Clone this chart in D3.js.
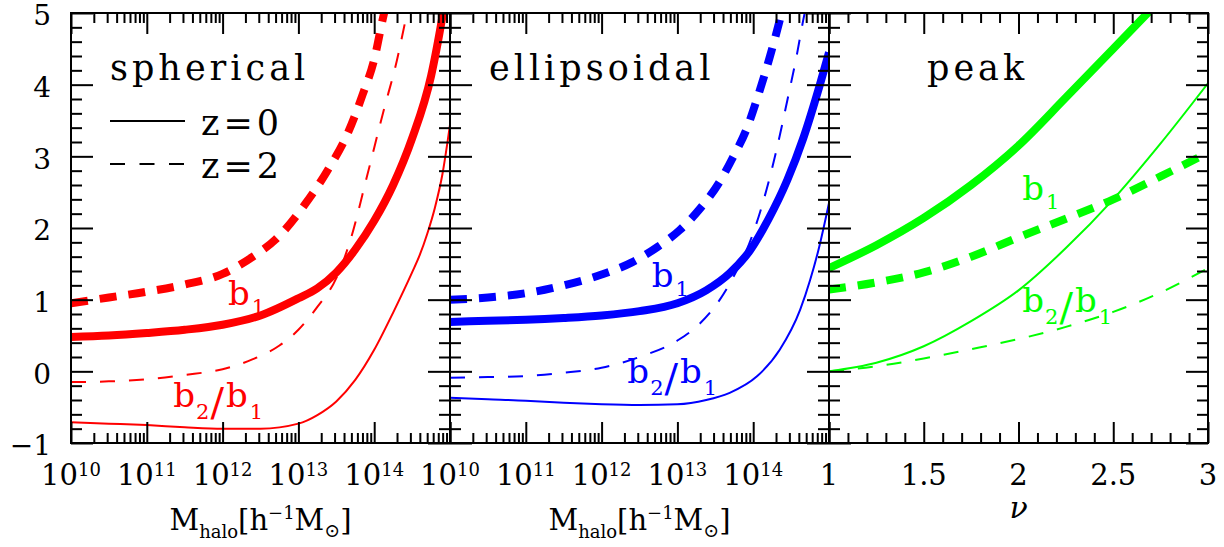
<!DOCTYPE html>
<html>
<head>
<meta charset="utf-8">
<script src="https://cdn.jsdelivr.net/npm/d3@7"></script>
<style>
  html, body { margin: 0; padding: 0; background: #fff; }
  svg { display: block; font-family: "DejaVu Serif", serif; }
</style>
</head>
<body>
<svg id="chart" width="1224" height="547"></svg>
<script>
// ---- axis ticks ----
const massDecades = [10, 11, 12, 13, 14, 15];      // log10 M tick decades
const massLabelDecades = [10, 11, 12, 13, 14];     // decades that carry a label
const nuMajor = [1, 1.5, 2, 2.5, 3];
const nuLabels = ["1", "1.5", "2", "2.5", "3"];
const biasMajor = [-1, 0, 1, 2, 3, 4, 5];

// ---- spherical collapse: [log10 M, value] ----
const sphericalB1z0 = [[10,0.48],[10.5,0.50],[11,0.535],[11.5,0.58],[12,0.65],[12.5,0.78],[13,1.02],[13.25,1.16],[13.5,1.38],[13.75,1.70],[14,2.10],[14.25,2.60],[14.5,3.25],[14.75,4.12],[14.9,4.95],[15,5.6]];
const sphericalB1z2 = [[10,0.95],[10.5,1.03],[11,1.11],[11.5,1.21],[12,1.36],[12.4,1.60],[12.7,1.84],[13.1,2.35],[13.4,2.83],[13.65,3.32],[13.85,3.87],[14.0,4.35],[14.12,4.95],[14.2,5.3]];
const sphericalB2z0 = [[10,-0.71],[10.5,-0.73],[11,-0.75],[11.5,-0.78],[12,-0.80],[12.5,-0.80],[13,-0.73],[13.25,-0.61],[13.5,-0.42],[13.75,-0.12],[14,0.30],[14.25,0.82],[14.5,1.38],[14.6,1.62],[14.7,1.92],[14.8,2.28],[14.9,2.75],[15,3.44]];
const sphericalB2z2 = [[10,-0.15],[10.5,-0.14],[11,-0.11],[11.5,-0.05],[12,0.03],[12.4,0.17],[12.75,0.36],[13,0.58],[13.25,0.90],[13.5,1.30],[13.7,1.88],[13.9,2.70],[14.12,3.62],[14.3,4.34],[14.43,4.98],[14.5,5.3]];

// ---- ellipsoidal collapse: [log10 M, value] ----
const ellipsoidalB1z0 = [[10,0.69],[10.5,0.705],[11,0.72],[11.5,0.745],[12,0.78],[12.5,0.84],[13,0.95],[13.38,1.13],[13.69,1.37],[13.96,1.69],[14.2,2.12],[14.45,2.67],[14.66,3.25],[14.88,4.0],[15,4.45]];
const ellipsoidalB1z2 = [[10,1.0],[10.5,1.03],[11,1.09],[11.5,1.20],[12,1.35],[12.4,1.52],[12.73,1.73],[13.03,1.97],[13.29,2.26],[13.56,2.65],[13.73,2.98],[13.92,3.40],[14.05,3.80],[14.22,4.39],[14.35,4.9],[14.42,5.2]];
const ellipsoidalB2z0 = [[10,-0.37],[10.5,-0.39],[11,-0.41],[11.5,-0.44],[12,-0.46],[12.5,-0.47],[13,-0.46],[13.38,-0.40],[13.69,-0.30],[14.05,-0.07],[14.35,0.30],[14.62,0.86],[14.75,1.27],[14.86,1.69],[15,2.35]];
const ellipsoidalB2z2 = [[10,-0.09],[10.5,-0.08],[11,-0.065],[11.5,-0.02],[12,0.05],[12.5,0.20],[13,0.43],[13.3,0.67],[13.56,1.0],[13.73,1.30],[14,1.93],[14.18,2.55],[14.31,3.1],[14.45,3.78],[14.58,4.44],[14.66,4.9],[14.72,5.2]];

// ---- peak model: [nu, value] ----
const peakB1z0 = [[1,1.44],[1.25,1.76],[1.5,2.14],[1.75,2.6],[2,3.15],[2.25,3.82],[2.5,4.5],[2.7,5.05]];
const peakB1z2 = [[1,1.14],[1.25,1.24],[1.5,1.38],[1.75,1.60],[2,1.87],[2.25,2.13],[2.5,2.40],[2.75,2.72],[3,3.05]];
const peakB2z0 = [[1,0.0],[1.25,0.12],[1.5,0.35],[1.75,0.70],[2,1.13],[2.25,1.72],[2.5,2.40],[2.75,3.18],[3,4.02]];
const peakB2z2 = [[1,0.0],[1.25,0.07],[1.5,0.18],[1.75,0.31],[2,0.45],[2.25,0.62],[2.5,0.83],[2.75,1.1],[3,1.44]];

// ---- annotation anchors: [x in data units, y in data units] ----
const labelB1 = { spherical: [12.07, 0.93], ellipsoidal: [12.66, 1.18], peak: [2.02, 2.39] };
const labelRatio = { spherical: [11.35, -0.50], ellipsoidal: [12.34, -0.16], peak: [2.02, 0.83] };

// ---- layout ----
const plotTop = 13, plotBottom = 443, panelW = 379;
const panelX = [71, 450, 829];
const svg = d3.select("#chart");
const y = d3.scaleLinear().domain([-1, 5]).range([plotBottom, plotTop]);

const biasMinor = d3.range(-1, 5.001, 0.2).map(v => +v.toFixed(1)).filter(v => Math.abs(v - Math.round(v)) > 1e-6);
const massMinor = [];
massDecades.slice(0, -1).forEach(d => { for (let k = 2; k <= 9; k++) massMinor.push(k * Math.pow(10, d)); });
const nuMinor = d3.range(1, 3.001, 0.1).map(v => +v.toFixed(1)).filter(v => nuMajor.indexOf(v) < 0);

const panels = [
  { name: "spherical", kind: "mass", color: "#ff0000",
    series: [[sphericalB1z0, true, false], [sphericalB1z2, true, true], [sphericalB2z0, false, false], [sphericalB2z2, false, true]] },
  { name: "ellipsoidal", kind: "mass", color: "#0000ff",
    series: [[ellipsoidalB1z0, true, false], [ellipsoidalB1z2, true, true], [ellipsoidalB2z0, false, false], [ellipsoidalB2z2, false, true]] },
  { name: "peak", kind: "nu", color: "#00ff00",
    series: [[peakB1z0, true, false], [peakB1z2, true, true], [peakB2z0, false, false], [peakB2z2, false, true]] }
];

function styleTicks(sel) {
  sel.select(".domain").remove();
  sel.selectAll(".tick line").attr("stroke", "#000").attr("stroke-width", 2);
}

panels.forEach((p, i) => {
  const x0 = panelX[i], x1 = x0 + panelW;
  const g = svg.append("g");
  let x, xMajor, xMinor, px;
  if (p.kind === "mass") {
    x = d3.scaleLog().domain([1e10, 1e15]).range([x0, x1]);
    xMajor = massDecades.map(d => Math.pow(10, d));
    xMinor = massMinor;
    px = d => x(Math.pow(10, d));
  } else {
    x = d3.scaleLinear().domain([1, 3]).range([x0, x1]);
    xMajor = nuMajor;
    xMinor = nuMinor;
    px = d => x(d);
  }

  // clip for the curves
  const clipId = "clip" + i;
  svg.append("clipPath").attr("id", clipId)
    .append("rect").attr("x", x0).attr("y", plotTop).attr("width", panelW).attr("height", plotBottom - plotTop);

  // curves
  const line = d3.line().x(d => px(d[0])).y(d => y(d[1])).curve(d3.curveMonotoneX);
  const cg = g.append("g").attr("clip-path", `url(#${clipId})`);
  p.series.forEach(([data, thick, dashed]) => {
    cg.append("path")
      .attr("d", line(data))
      .attr("fill", "none")
      .attr("stroke", p.color)
      .attr("stroke-width", thick ? 8 : 2)
      .attr("stroke-dasharray", dashed ? (thick ? "17 12" : "15 14") : null);
  });

  // ticks on all four sides, pointing inward
  const addAxis = (axis, tx, ty) => g.append("g").attr("transform", `translate(${tx},${ty})`).call(axis).call(styleTicks);
  addAxis(d3.axisBottom(x).tickValues(xMajor).tickSize(-21).tickSizeOuter(0).tickFormat(""), 0, plotBottom);
  addAxis(d3.axisBottom(x).tickValues(xMinor).tickSize(-10).tickSizeOuter(0).tickFormat(""), 0, plotBottom);
  addAxis(d3.axisTop(x).tickValues(xMajor).tickSize(-21).tickSizeOuter(0).tickFormat(""), 0, plotTop);
  addAxis(d3.axisTop(x).tickValues(xMinor).tickSize(-10).tickSizeOuter(0).tickFormat(""), 0, plotTop);
  addAxis(d3.axisRight(y).tickValues(biasMajor).tickSize(-22).tickSizeOuter(0).tickFormat(""), x1, 0);
  addAxis(d3.axisRight(y).tickValues(biasMinor).tickSize(-11).tickSizeOuter(0).tickFormat(""), x1, 0);
  addAxis(d3.axisLeft(y).tickValues(biasMinor).tickSize(-11).tickSizeOuter(0).tickFormat(""), x0, 0);
  const yl = addAxis(d3.axisLeft(y).tickValues(biasMajor).tickSize(-22).tickSizeOuter(0).tickPadding(20)
      .tickFormat(i === 0 ? (d => d < 0 ? "\u2212" + Math.abs(d) : String(d)) : ""), x0, 0);
  yl.attr("font-family", "DejaVu Serif").attr("font-size", 28);
  yl.selectAll(".tick text").attr("fill", "#000").attr("dy", "0.42em");

  // frame
  g.append("rect").attr("x", x0).attr("y", plotTop).attr("width", panelW).attr("height", plotBottom - plotTop)
    .attr("fill", "none").attr("stroke", "#000").attr("stroke-width", 2);

  // x tick labels
  if (p.kind === "mass") {
    const t = g.selectAll("text.xl").data(massLabelDecades).join("text")
      .attr("class", "xl").attr("x", d => x(Math.pow(10, d))).attr("y", 485)
      .attr("text-anchor", "middle").attr("font-size", 29).attr("fill", "#000");
    t.append("tspan").text("10");
    t.append("tspan").attr("font-size", 18).attr("dy", -9).text(d => d);

    const tt = g.append("text").attr("x", (x0 + x1) / 2).attr("y", 530)
      .attr("text-anchor", "middle").attr("font-size", 29).attr("fill", "#000");
    tt.append("tspan").text("M");
    tt.append("tspan").attr("font-size", 18).attr("dy", 8).text("halo");
    tt.append("tspan").attr("dy", -8).text("[h");
    tt.append("tspan").attr("font-size", 18).attr("dy", -11).text("\u22121");
    tt.append("tspan").attr("dy", 11).text("M");
    tt.append("tspan").attr("font-size", 19).attr("dy", 7).text("\u2299");
    tt.append("tspan").attr("dy", -7).text("]");
  } else {
    g.selectAll("text.xl").data(nuMajor).join("text")
      .attr("class", "xl").attr("x", d => x(d)).attr("y", 485)
      .attr("text-anchor", "middle").attr("font-size", 29).attr("fill", "#000")
      .text((d, k) => nuLabels[k]);
    g.append("text").attr("x", (x0 + x1) / 2).attr("y", 518)
      .attr("text-anchor", "middle").attr("font-size", 30).attr("font-style", "italic")
      .attr("fill", "#000").text("\u03bd");
  }

  // panel title
  g.append("text").attr("x", x0 + (i === 2 ? 98 : 39)).attr("y", 80)
    .attr("font-size", 35).attr("letter-spacing", 4).attr("fill", "#000").text(p.name);

  // curve annotations
  const b1 = labelB1[p.name], br = labelRatio[p.name];
  const t1 = g.append("text").attr("x", px(b1[0])).attr("y", y(b1[1]))
    .attr("font-size", 34).attr("fill", p.color);
  t1.append("tspan").text("b");
  t1.append("tspan").attr("font-size", 21).attr("dy", 9).attr("dx", 2).text("1");

  const t2 = g.append("text").attr("x", px(br[0])).attr("y", y(br[1]))
    .attr("font-size", 34).attr("fill", p.color);
  t2.append("tspan").text("b");
  t2.append("tspan").attr("font-size", 21).attr("dy", 12).attr("dx", 1).text("2");
  t2.append("tspan").attr("font-size", 40).attr("dy", -3).attr("dx", 1).text("/");
  t2.append("tspan").attr("dy", -9).attr("dx", 2).text("b");
  t2.append("tspan").attr("font-size", 21).attr("dy", 12).attr("dx", 2).text("1");
});

// legend in the first panel
const leg = svg.append("g");
const legX = panelX[0] + 39;
[["z=0", null, 121, 135], ["z=2", "15 14.5", 164, 178]].forEach(([lab, dash, ly, ty]) => {
  leg.append("line").attr("x1", legX).attr("x2", legX + 75).attr("y1", ly).attr("y2", ly)
    .attr("stroke", "#000").attr("stroke-width", 2).attr("stroke-dasharray", dash);
  leg.append("text").attr("x", legX + 91).attr("y", ty).attr("font-size", 35)
    .attr("letter-spacing", 4).attr("fill", "#000").text(lab);
});
</script>
</body>
</html>
